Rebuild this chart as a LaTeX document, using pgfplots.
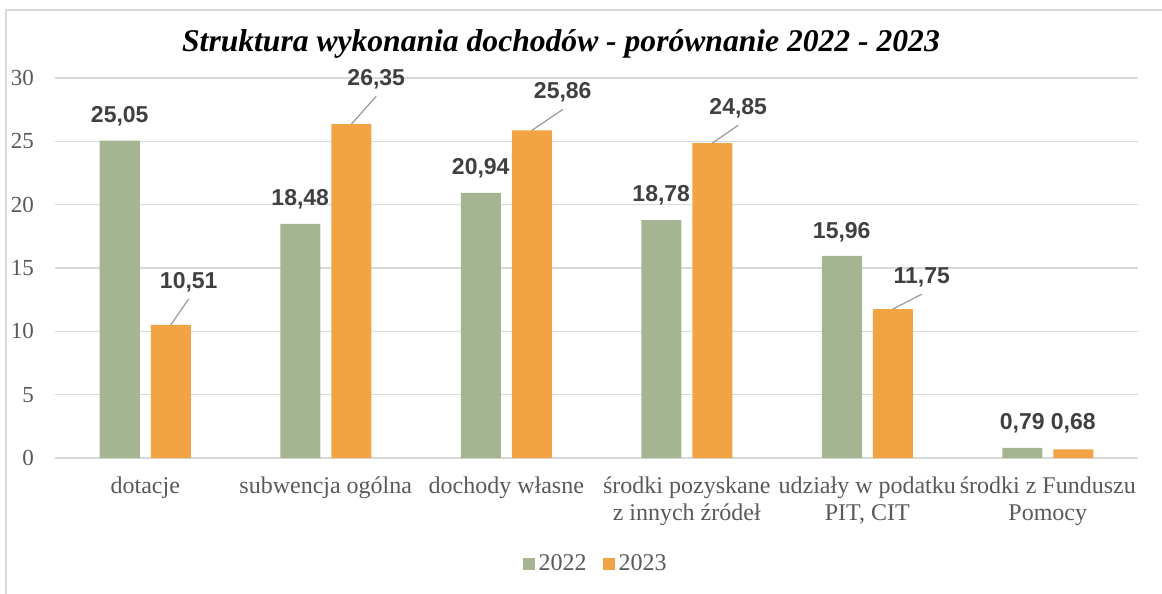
\documentclass[border=0pt]{standalone}
\usepackage{pgfplots}
\pgfplotsset{compat=1.18}
\usepackage{pgfplotstable}
\usepackage{fontspec}
\setmainfont{Liberation Serif}
\newfontfamily\arialfont{Liberation Sans}
\definecolor{cgreen}{HTML}{A5B592}
\definecolor{corange}{HTML}{F2A445}
\definecolor{cgrid}{HTML}{D9D9D9}
\definecolor{ctext}{HTML}{595959}
\definecolor{clabel}{HTML}{404040}

% dx, dy: label offsets (pt) from the category centre at the bar top
\pgfplotstableread{
x y dx dy
0 25.05 -12.75 12.25
1 18.48 -12.75 12.25
2 20.94 -12.75 12.5
3 18.78 -12.75 12.5
4 15.96 -12.75 12
5 0.79 -12.75 12.5
}\tabA
\pgfplotstableread{
x y dx dy
0 10.51 21.75 21.5
1 26.35 25.25 22.5
2 25.86 28.25 19
3 24.85 25.75 17.5
4 11.75 27.25 16
5 0.68 12.75 13
}\tabB

\begin{document}
\begin{tikzpicture}
\path[use as bounding box] (0,0) rectangle (581pt,297pt);
\draw[cgrid, line width=0.7pt] (3pt,0) -- (3pt,292pt) -- (581pt,292pt);
\node[font=\fontsize{15.8}{18}\selectfont\bfseries\itshape, text=black] at (280.5pt,275pt) {Struktura wykonania dochodów - porównanie 2022 - 2023};
\begin{axis}[
  at={(27.5pt,68pt)}, anchor=south west,
  scale only axis, width=541.5pt, height=190pt,
  xmin=-0.5, xmax=5.5, ymin=0, ymax=30,
  ytick={0,5,...,30},
  xtick={0,...,5},
  xticklabels={dotacje, subwencja ogólna, dochody własne, {środki pozyskane\\z innych źródeł}, {udziały w podatku\\PIT, CIT}, {środki z Funduszu\\Pomocy}},
  xticklabel style={align=center, font=\fontsize{12}{13.2}\selectfont, text=ctext, anchor=north, yshift=-6pt},
  yticklabel style={font=\fontsize{11.5}{13}\selectfont, text=ctext, anchor=east, xshift=-7pt},
  /pgf/number format/assume math mode=true,
  major tick length=0pt,
  axis line style={draw=none},
  ymajorgrids, grid style={cgrid, line width=0.75pt},
  clip=false,
  legend style={at={(0.5,-0.279)}, anchor=center, draw=none, fill=none,
    font=\fontsize{12}{13}\selectfont, text=ctext, legend columns=2,
    /tikz/every even column/.append style={column sep=6pt},
    /tikz/every odd column/.append style={column sep=0pt},
    inner xsep=0pt},
  legend image code/.code={\fill[#1] (0pt,-3pt) rectangle (6pt,3pt);},
]
\addplot[ybar, bar width=20pt, bar shift=-12.75pt, fill=cgreen, draw=none,
  nodes near coords={\pgfmathprintnumber[fixed, fixed zerofill, precision=2, use comma]{\pgfplotspointmeta}},
  visualization depends on={\thisrow{dx} \as \labdx},
  visualization depends on={\thisrow{dy} \as \labdy},
  nodes near coords style={anchor=center, font=\arialfont\fontsize{11.5}{13}\selectfont\bfseries, text=clabel, xshift=\labdx pt, yshift=\labdy pt}]
  table[x=x,y=y] {\tabA};
\addlegendentry{2022}
\addplot[ybar, bar width=20pt, bar shift=12.75pt, fill=corange, draw=none,
  nodes near coords={\pgfmathprintnumber[fixed, fixed zerofill, precision=2, use comma]{\pgfplotspointmeta}},
  visualization depends on={\thisrow{dx} \as \labdx},
  visualization depends on={\thisrow{dy} \as \labdy},
  nodes near coords style={anchor=center, font=\arialfont\fontsize{11.5}{13}\selectfont\bfseries, text=clabel, xshift=\labdx pt, yshift=\labdy pt}]
  table[x=x,y=y] {\tabB};
\addlegendentry{2023}
\draw[gray!80, line width=0.6pt] ([xshift=12.75pt]axis cs:0,10.51) -- ([xshift=21.75pt,yshift=13pt]axis cs:0,10.51);
\draw[gray!80, line width=0.6pt] ([xshift=12.75pt]axis cs:1,26.35) -- ([xshift=25.25pt,yshift=14pt]axis cs:1,26.35);
\draw[gray!80, line width=0.6pt] ([xshift=12.75pt]axis cs:2,25.86) -- ([xshift=28.25pt,yshift=10.5pt]axis cs:2,25.86);
\draw[gray!80, line width=0.6pt] ([xshift=12.75pt]axis cs:3,24.85) -- ([xshift=25.75pt,yshift=9pt]axis cs:3,24.85);
\draw[gray!80, line width=0.6pt] ([xshift=12.75pt]axis cs:4,11.75) -- ([xshift=27.25pt,yshift=7.5pt]axis cs:4,11.75);
\end{axis}
\end{tikzpicture}
\end{document}
